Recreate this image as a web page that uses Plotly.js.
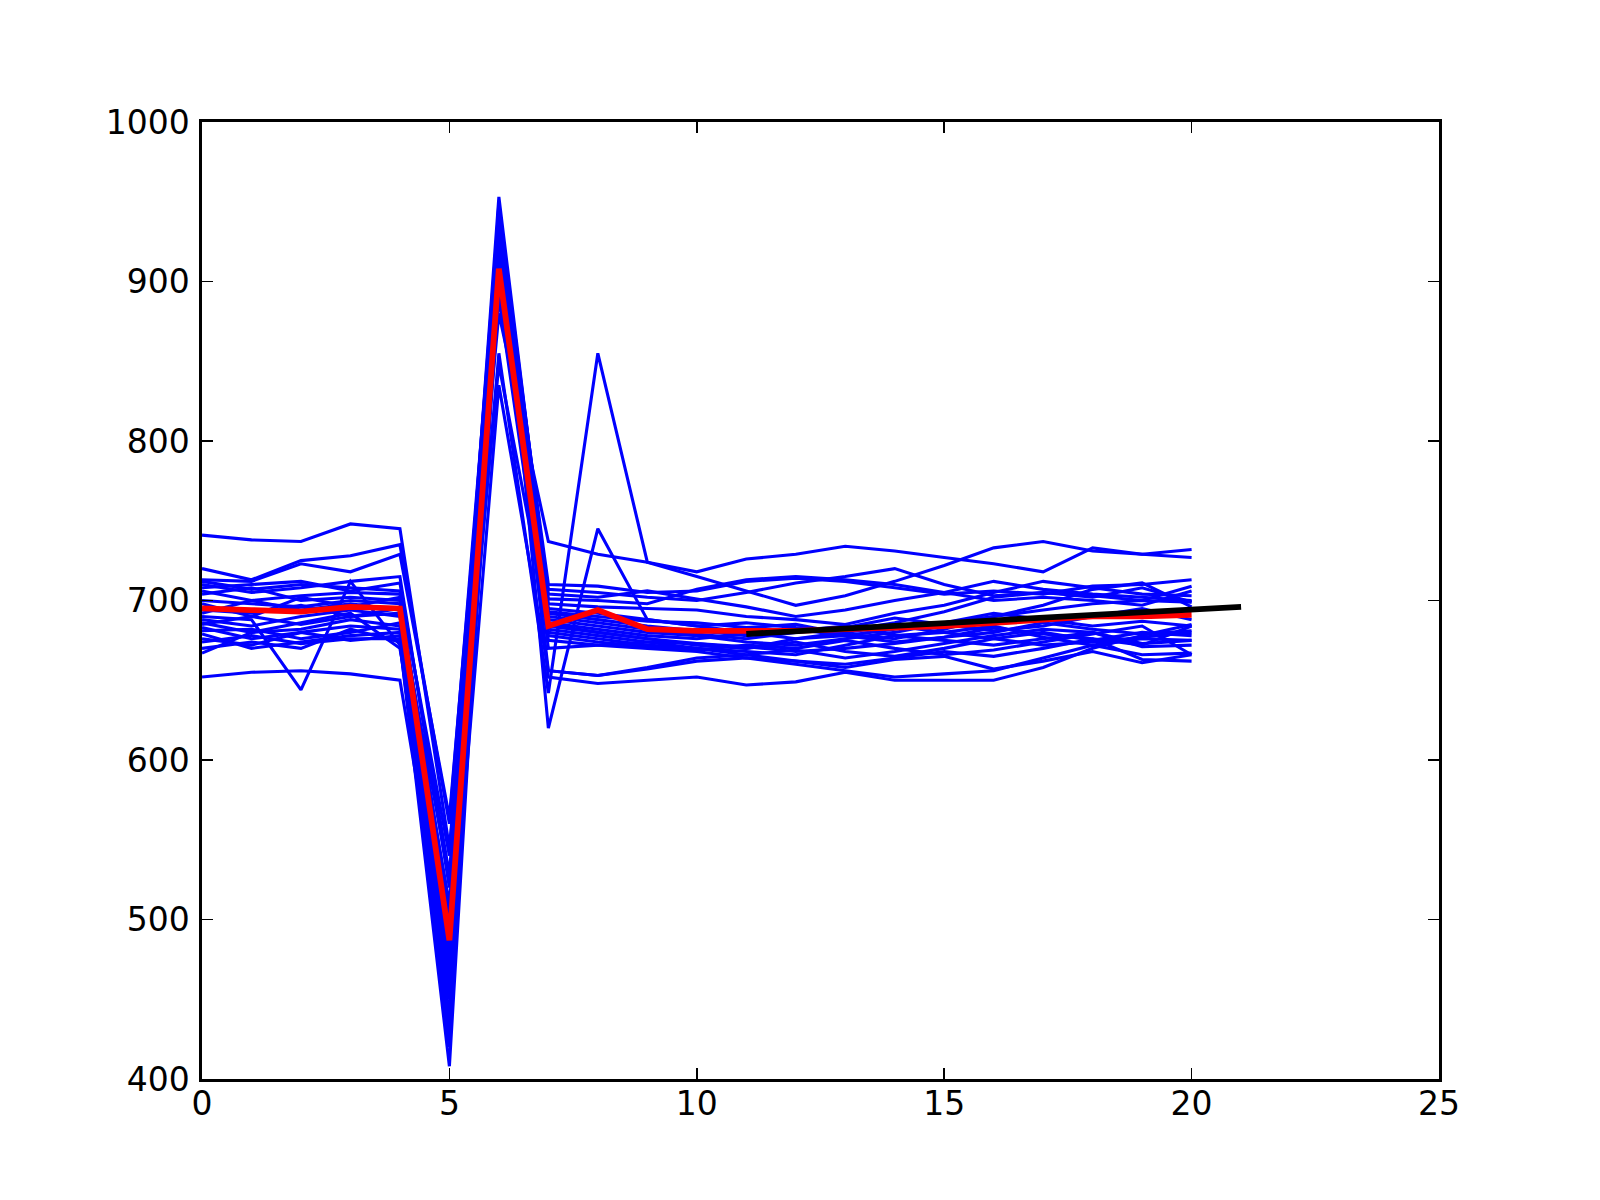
<!DOCTYPE html>
<html>
<head>
<meta charset="utf-8">
<script src="https://cdn.plot.ly/plotly-3.0.1.min.js"></script>
<style>
  html, body { margin: 0; padding: 0; background: #ffffff; }
  #chart { width: 1600px; height: 1200px; }
</style>
</head>
<body>
<div id="chart"></div>
<script>
// x positions (sample index)
const xs = [0, 1, 2, 3, 4, 5, 6, 7, 8, 9, 10, 11, 12, 13, 14, 15, 16, 17, 18, 19, 20];

// individual (blue) series
const s01 = [741, 738, 737, 748, 745, 545, 880, 737, 729, 724, 715, 706, 697, 703, 712, 722, 733, 737, 731, 729, 727];
const s02 = [720, 713, 725, 728, 735, 560, 935, 710, 709, 705, 706, 712, 714, 712, 708, 704, 706, 704, 709, 710, 713];
const s03 = [713, 712, 723, 718, 729, 564, 920, 707, 705, 702, 700, 705, 711, 715, 720, 710, 703, 705, 703, 700, 709];
const s04 = [710, 705, 708, 712, 715, 520, 945, 701, 700, 698, 707, 713, 715, 713, 710, 705, 700, 702, 700, 697, 706];
const s05 = [708, 710, 712, 706, 711, 528, 953, 698, 696, 695, 694, 690, 688, 685, 692, 697, 705, 712, 708, 704, 703];
const s06 = [706, 700, 703, 705, 704, 480, 910, 695, 692, 688, 684, 686, 683, 681, 686, 693, 702, 705, 702, 708, 699];
const s07 = [704, 708, 700, 702, 700, 505, 925, 693, 690, 687, 686, 683, 685, 679, 676, 682, 690, 697, 707, 711, 696];
const s08 = [700, 698, 696, 700, 698, 470, 900, 690, 686, 682, 679, 676, 680, 683, 689, 685, 681, 684, 690, 695, 688];
const s09 = [698, 690, 702, 696, 702, 495, 940, 688, 684, 680, 678, 674, 672, 676, 680, 686, 692, 688, 684, 687, 684];
const s10 = [694, 692, 697, 690, 695, 455, 915, 686, 682, 678, 676, 679, 682, 678, 674, 677, 680, 686, 682, 679, 681];
const s11 = [690, 688, 644, 712, 672, 440, 895, 684, 680, 676, 672, 670, 674, 668, 665, 670, 676, 680, 675, 680, 678];
const s12 = [688, 684, 690, 694, 690, 490, 930, 682, 678, 674, 670, 668, 666, 672, 678, 680, 684, 677, 672, 676, 675];
const s13 = [686, 680, 682, 688, 684, 460, 905, 680, 676, 672, 670, 666, 669, 664, 668, 673, 678, 682, 680, 671, 672];
const s14 = [683, 676, 680, 684, 682, 430, 948, 678, 674, 671, 669, 672, 670, 675, 670, 666, 669, 674, 679, 684, 666];
const s15 = [681, 682, 676, 680, 686, 510, 890, 675, 672, 670, 668, 664, 662, 660, 664, 668, 665, 670, 676, 663, 662];
const s16 = [679, 670, 674, 678, 680, 475, 935, 670, 672, 674, 673, 670, 676, 680, 684, 680, 676, 672, 674, 677, 680];
const s17 = [676, 672, 680, 675, 678, 450, 920, 656, 653, 657, 662, 664, 660, 656, 652, 654, 656, 664, 672, 666, 667];
const s18 = [674, 678, 673, 676, 676, 420, 950, 620, 745, 688, 684, 680, 676, 678, 682, 686, 690, 694, 698, 700, 699];
const s19 = [670, 674, 670, 682, 674, 408, 928, 652, 648, 650, 652, 647, 649, 655, 650, 650, 650, 658, 670, 678, 685];
const s20 = [667, 680, 686, 692, 670, 500, 855, 642, 855, 724, 718, 726, 729, 734, 731, 727, 723, 718, 733, 729, 732];
const s21 = [652, 655, 656, 654, 650, 465, 835, 656, 653, 658, 664, 666, 662, 658, 663, 665, 657, 662, 668, 661, 666];
const s22 = [712, 707, 710, 708, 706, 540, 945, 704, 702, 706, 701, 696, 690, 694, 700, 705, 712, 707, 704, 702, 700];
const s23 = [692, 700, 694, 698, 694, 485, 912, 692, 688, 684, 681, 678, 681, 684, 678, 675, 672, 676, 680, 673, 675];
const s24 = [685, 690, 685, 690, 692, 525, 848, 685, 680, 676, 673, 671, 668, 670, 673, 677, 683, 679, 676, 672, 684];

const blueSeries = [s01, s02, s03, s04, s05, s06, s07, s08, s09, s10, s11, s12,
                    s13, s14, s15, s16, s17, s18, s19, s20, s21, s22, s23, s24];

// mean (red) series
const meanSeries = [695, 694, 693, 696, 695, 487, 908, 684, 694, 682, 681, 681, 681, 682, 683, 684, 686, 688, 690, 690, 691];

// trend (black) line endpoints
const trendX = [11, 21];
const trendY = [679, 696];

// axis ticks
const xTicks = [0, 5, 10, 15, 20, 25];
const yTicks = [400, 500, 600, 700, 800, 900, 1000];

const traces = [];
blueSeries.forEach(function (ys) {
  traces.push({
    x: xs, y: ys, type: 'scatter', mode: 'lines',
    line: { color: '#0000ff', width: 3.1, simplify: false },
    hoverinfo: 'skip'
  });
});
traces.push({
  x: xs, y: meanSeries, type: 'scatter', mode: 'lines',
  line: { color: '#ff0000', width: 5.8, simplify: false },
  hoverinfo: 'skip'
});
traces.push({
  x: trendX, y: trendY, type: 'scatter', mode: 'lines',
  line: { color: '#000000', width: 5.8 },
  hoverinfo: 'skip'
});

const axisCommon = {
  showgrid: false,
  zeroline: false,
  showline: true,
  linecolor: '#000000',
  linewidth: 2.6,
  mirror: 'allticks',
  ticks: 'inside',
  ticklen: 11,
  tickwidth: 1.6,
  tickcolor: '#000000',
  tickfont: { family: 'DejaVu Sans', size: 33, color: '#000000' }
};

const layout = {
  width: 1600,
  height: 1200,
  margin: { l: 202, r: 161, t: 122, b: 121, pad: 0 },
  paper_bgcolor: '#ffffff',
  plot_bgcolor: '#ffffff',
  showlegend: false,
  hovermode: false,
  xaxis: Object.assign({}, axisCommon, {
    range: [0, 25],
    tickmode: 'array',
    tickvals: xTicks,
    ticktext: xTicks.map(String),
    ticklabelstandoff: -6
  }),
  yaxis: Object.assign({}, axisCommon, {
    range: [400, 1000],
    tickmode: 'array',
    tickvals: yTicks,
    ticktext: yTicks.map(String),
    ticklabelstandoff: 3
  })
};

Plotly.newPlot('chart', traces, layout, { displayModeBar: false, staticPlot: true });
</script>
</body>
</html>
